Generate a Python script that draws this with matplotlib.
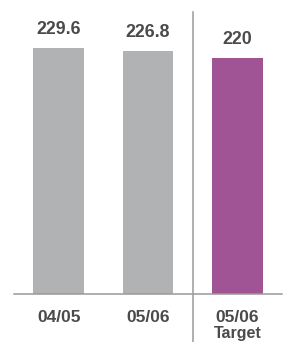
#!/usr/bin/env python
# Bar chart: 04/05, 05/06 actual vs 05/06 target

import matplotlib.pyplot as plt
import matplotlib.transforms as mtransforms

categories = ['04/05', '05/06', '05/06']
sublabels = ['', '', 'Target']
values = [229.6, 226.8, 220]
colors = ['#b1b2b4', '#b1b2b4', '#a05496']

txt = '#4a4a4a'
fnt = 'Liberation Sans'

fig = plt.figure(figsize=(2.86, 3.42), dpi=100)
W, H = 286, 342
base_px = 294
ax = fig.add_axes([14 / W, (H - base_px) / H, 268 / W, base_px / H])

x = list(range(len(values)))
ax.bar(x, values, width=0.57, color=colors)
ax.set_xlim(-0.5, 2.5)
ax.set_ylim(0, base_px / 1.071)

for s in ax.spines.values():
    s.set_visible(False)
ax.set_xticks([])
ax.set_yticks([])
ax.axhline(0, color='#9a9a9a', lw=1.1, clip_on=False)

# value labels
for xi, v in zip(x, values):
    lab = f'{v:g}'
    ax.annotate(lab, (xi, v), xytext=(0, 10), textcoords='offset points',
                ha='center', va='baseline', fontsize=12.8, fontweight='bold',
                color=txt, family=fnt)

# category labels
for xi, c, sub in zip(x, categories, sublabels):
    ax.annotate(c, (xi, 0), xytext=(0, -20.5), textcoords='offset points',
                ha='center', va='baseline', fontsize=12.5, fontweight='bold',
                color=txt, family=fnt)
    if sub:
        ax.annotate(sub, (xi, 0), xytext=(0, -31.5), textcoords='offset points',
                    ha='center', va='baseline', fontsize=11.5, fontweight='bold',
                    color=txt, family=fnt)

# divider between actuals and target
trans = mtransforms.blended_transform_factory(ax.transData, fig.transFigure)
ax.plot([1.5, 1.5], [0, 1 - 12 / H], color='#9a9a9a', lw=1.1,
        transform=trans, clip_on=False)

plt.savefig('out.png', dpi=100)
